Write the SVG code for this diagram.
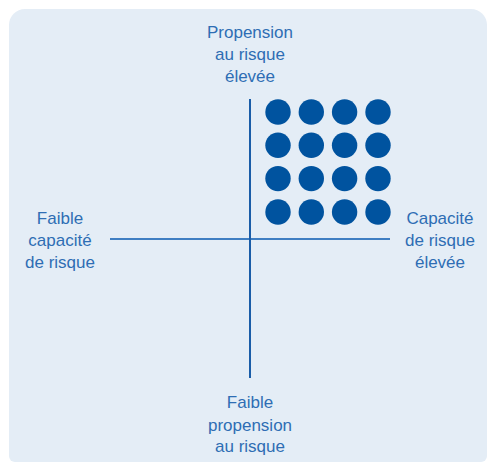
<svg xmlns="http://www.w3.org/2000/svg" width="487" height="463" viewBox="0 0 487 463">
<style>
.lbl{font-family:"Liberation Sans",Arial,sans-serif;font-size:17px;fill:#2E6DB4;text-anchor:middle}
.dot{fill:#00539F}
</style>
<rect width="487" height="463" fill="#FFFFFF"/>
<path id="panel" d="M25,9 H471 A16,16 0 0 1 487,25 V456 A6,6 0 0 1 481,462 H15 A6,6 0 0 1 9,456 V25 A16,16 0 0 1 25,9 Z" fill="#E4EDF6"/>
<g id="connectors">
<line x1="110" y1="239" x2="390" y2="239" stroke="#3F7EC2" stroke-width="2"/>
<line x1="250" y1="99" x2="250" y2="378" stroke="#1A5DA8" stroke-width="2"/>
</g>
<g id="dots">
<circle class="dot" cx="278" cy="112" r="12.7"/>
<circle class="dot" cx="311.3" cy="112" r="12.7"/>
<circle class="dot" cx="344.6" cy="112" r="12.7"/>
<circle class="dot" cx="378" cy="112" r="12.7"/>
<circle class="dot" cx="278" cy="145.3" r="12.7"/>
<circle class="dot" cx="311.3" cy="145.3" r="12.7"/>
<circle class="dot" cx="344.6" cy="145.3" r="12.7"/>
<circle class="dot" cx="378" cy="145.3" r="12.7"/>
<circle class="dot" cx="278" cy="178.6" r="12.7"/>
<circle class="dot" cx="311.3" cy="178.6" r="12.7"/>
<circle class="dot" cx="344.6" cy="178.6" r="12.7"/>
<circle class="dot" cx="378" cy="178.6" r="12.7"/>
<circle class="dot" cx="278" cy="212" r="12.7"/>
<circle class="dot" cx="311.3" cy="212" r="12.7"/>
<circle class="dot" cx="344.6" cy="212" r="12.7"/>
<circle class="dot" cx="378" cy="212" r="12.7"/>
</g>
<g id="top-label">
<text class="lbl" x="250" y="38">Propension</text>
<text class="lbl" x="250" y="60">au risque</text>
<text class="lbl" x="250" y="82">élevée</text>
</g>
<g id="left-label">
<text class="lbl" x="60" y="224">Faible</text>
<text class="lbl" x="60" y="246">capacité</text>
<text class="lbl" x="60" y="268">de risque</text>
</g>
<g id="right-label">
<text class="lbl" x="440" y="224">Capacité</text>
<text class="lbl" x="440" y="246">de risque</text>
<text class="lbl" x="440" y="268">élevée</text>
</g>
<g id="bottom-label">
<text class="lbl" x="250" y="408">Faible</text>
<text class="lbl" x="250" y="431">propension</text>
<text class="lbl" x="250" y="452">au risque</text>
</g>
</svg>
